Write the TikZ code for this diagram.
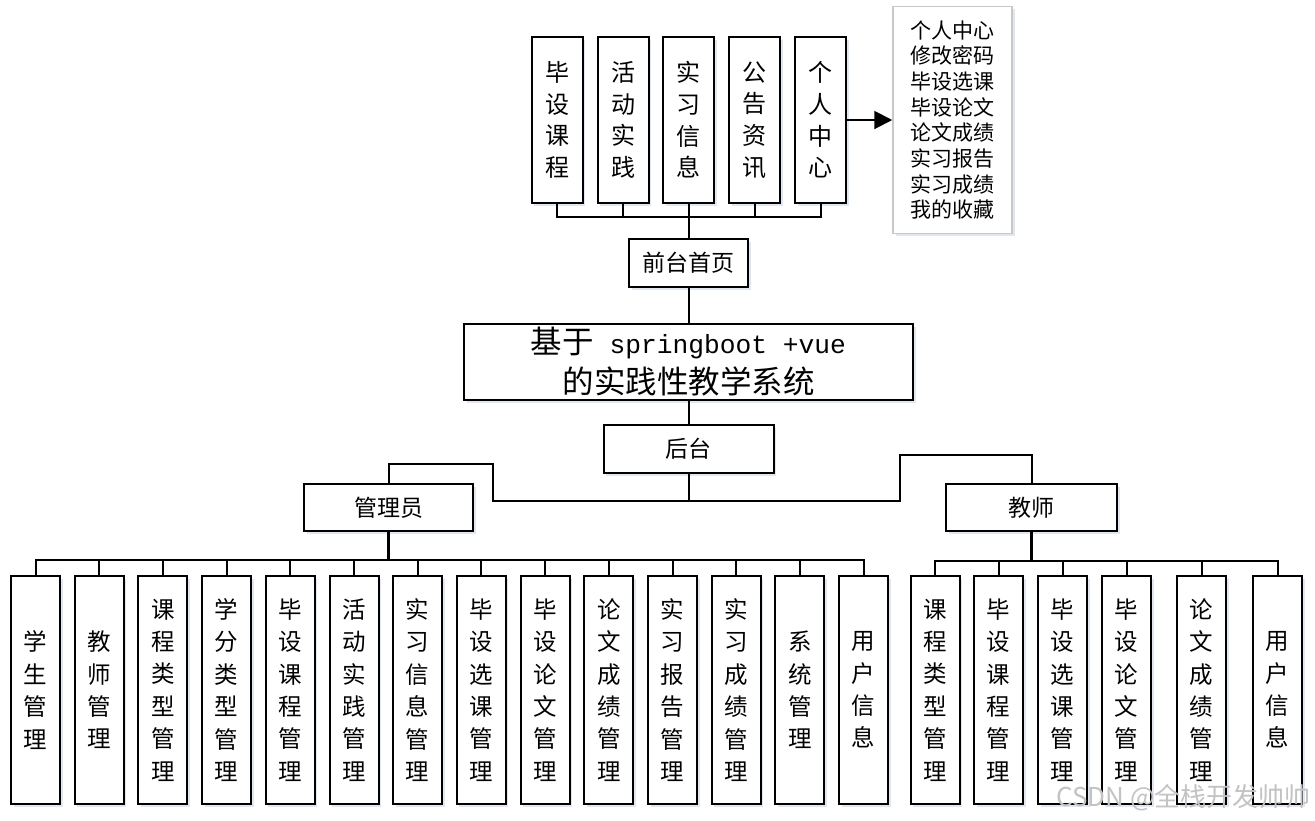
\documentclass[tikz,border=0pt]{standalone}
\usepackage{fontspec}
\setmainfont{Noto Sans CJK SC}
\newfontfamily\monofont[Scale=0.8333]{Liberation Mono}
\usetikzlibrary{arrows.meta,shadows}
\definecolor{shadowc}{RGB}{205,215,232}
\begin{document}
\begin{tikzpicture}[x=1pt,y=-1pt]
\tikzset{
 box/.style={draw, line width=2pt, fill=white, inner sep=0pt, align=center,
   drop shadow={shadow xshift=2.5pt, shadow yshift=-2.5pt, fill=shadowc, opacity=0.6}},
 topv/.style={box, minimum width=51pt, minimum height=166pt, font=\fontsize{24}{31.7}\selectfont},
 botv/.style={box, minimum width=49pt, minimum height=228pt, font=\fontsize{23.5}{32.4}\selectfont},
 hbox/.style={box, minimum height=47pt, font=\fontsize{23}{28}\selectfont},
 wire/.style={line width=2pt},
}
\useasboundingbox (0,0) rectangle (1315,820);

% top row
\node[topv] (t1) at (557,120) {毕\\设\\课\\程};
\node[topv] (t2) at (623,120) {活\\动\\实\\践};
\node[topv] (t3) at (688.5,120) {实\\习\\信\\息};
\node[topv] (t4) at (754.5,120) {公\\告\\资\\讯};
\node[topv] (t5) at (820.5,120) {个\\人\\中\\心};

\node[draw={rgb,255:red,200;green,200;blue,200}, line width=1.5pt, fill=white, inner sep=0pt,
  drop shadow={shadow xshift=2.5pt, shadow yshift=-2.5pt, fill=shadowc, opacity=0.6},
  minimum width=119pt, minimum height=227pt, align=center,
  font=\fontsize{21}{25.7}\selectfont] (list) at (952.5,120)
  {个人中心\\修改密码\\毕设选课\\毕设论文\\论文成绩\\实习报告\\实习成绩\\我的收藏};

\node[hbox, minimum width=119pt, minimum height=48pt] (front) at (688.5,263) {前台首页};
\node[box, minimum width=449pt, minimum height=76pt, font=\fontsize{31.5}{40}\selectfont] (main) at (688.5,362)
  {基于{\monofont\ springboot +vue}\\的实践性教学系统};
\node[hbox, minimum width=170pt, minimum height=48pt] (back) at (688.5,449) {后台};
\node[hbox, minimum width=169pt] (admin) at (388.5,507.5) {管理员};
\node[hbox, minimum width=171pt] (teacher) at (1031.5,507.5) {教师};

% admin children
\node[botv] (a1) at (35.5,690) {学\\生\\管\\理};
\node[botv] (a2) at (99.2,690) {教\\师\\管\\理};
\node[botv] (a3) at (162.9,690) {课\\程\\类\\型\\管\\理};
\node[botv] (a4) at (226.6,690) {学\\分\\类\\型\\管\\理};
\node[botv] (a5) at (290.3,690) {毕\\设\\课\\程\\管\\理};
\node[botv] (a6) at (354.0,690) {活\\动\\实\\践\\管\\理};
\node[botv] (a7) at (417.7,690) {实\\习\\信\\息\\管\\理};
\node[botv] (a8) at (481.4,690) {毕\\设\\选\\课\\管\\理};
\node[botv] (a9) at (545.1,690) {毕\\设\\论\\文\\管\\理};
\node[botv] (a10) at (608.8,690) {论\\文\\成\\绩\\管\\理};
\node[botv] (a11) at (672.5,690) {实\\习\\报\\告\\管\\理};
\node[botv] (a12) at (736.2,690) {实\\习\\成\\绩\\管\\理};
\node[botv] (a13) at (799.9,690) {系\\统\\管\\理};
\node[botv] (a14) at (863.6,690) {用\\户\\信\\息};

% teacher children
\node[botv] (c1) at (935,690) {课\\程\\类\\型\\管\\理};
\node[botv] (c2) at (998.5,690) {毕\\设\\课\\程\\管\\理};
\node[botv] (c3) at (1062.5,690) {毕\\设\\选\\课\\管\\理};
\node[botv] (c4) at (1126.5,690) {毕\\设\\论\\文\\管\\理};
\node[botv] (c5) at (1201.5,690) {论\\文\\成\\绩\\管\\理};
\node[botv] (c6) at (1277.5,690) {用\\户\\信\\息};

% connectors top
\coordinate (tb) at (688.5,217);
\foreach \n in {t1,t2,t3,t4,t5} \draw[wire] (\n.south) |- (tb);
\draw[wire] (tb) -- (front.north);
\draw[wire, -{Triangle[length=18pt,width=18pt]}] (t5.east) -- (list.west);

\draw[wire] (front.south) -- (main.north);
\draw[wire] (main.south) -- (back.north);

\coordinate (bj) at (688.5,501);
\coordinate (la) at (493,501);
\coordinate (lb) at (493,464);
\coordinate (ra) at (900,501);
\coordinate (rb) at (900,455);
\draw[wire] (back.south) -- (bj);
\draw[wire] (bj) -- (la) -- (lb) -| (admin.north);
\draw[wire] (bj) -- (ra) -- (rb) -| (teacher.north);

\coordinate (ab) at (388.5,560);
\draw[wire, line width=2.6pt] (admin.south) -- (ab);
\foreach \n in {a1,a2,a3,a4,a5,a6,a7,a8,a9,a10,a11,a12,a13,a14} \draw[wire] (ab) -| (\n.north);

\coordinate (cb) at (1031.5,561);
\draw[wire, line width=2.6pt] (teacher.south) -- (cb);
\foreach \n in {c1,c2,c3,c4,c5,c6} \draw[wire] (cb) -| (\n.north);

\node[anchor=east, inner sep=0pt, text={rgb,255:red,195;green,195;blue,195}, font=\fontsize{26}{26}\selectfont] (wm) at (1311,798) {CSDN @全栈开发帅帅};
\end{tikzpicture}
\end{document}
